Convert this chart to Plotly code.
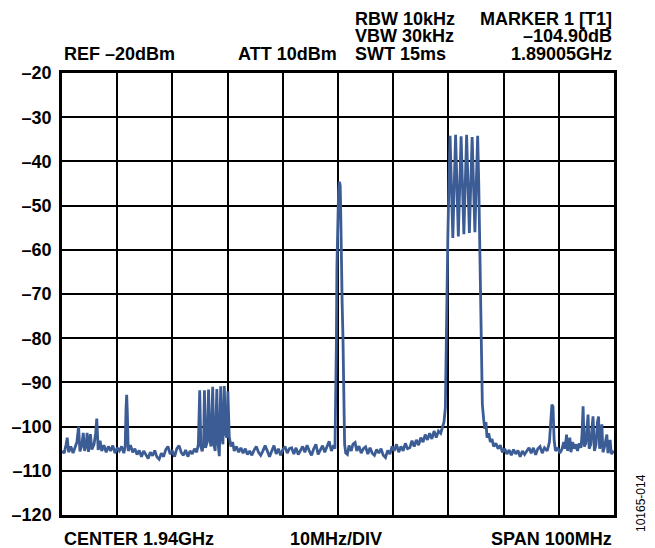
import plotly.graph_objects as go

# Frequency offset from 1.89 GHz start (MHz), span 100 MHz
offset_mhz = [
    0.0, 0.4, 0.75, 0.95, 1.2, 1.6, 2.0, 2.4, 2.7, 3.0, 3.25, 3.6, 3.85, 4.1, 4.4, 4.55, 4.8, 5.0, 5.15, 5.4,
    5.8, 6.1, 6.3, 6.55, 6.9, 7.2, 7.6, 8.0, 8.4, 8.8, 9.2, 9.6, 10.0, 10.4, 10.8, 11.2, 11.45, 11.6, 11.72, 11.85,
    12.0, 12.4, 12.8, 13.2, 13.6, 14.0, 14.4, 14.8, 15.2, 15.6, 16.0, 16.4, 16.8, 17.2, 17.6, 18.0, 18.4, 18.8, 19.2, 19.6,
    20.0, 20.4, 20.8, 21.2, 21.6, 22.0, 22.4, 22.8, 23.2, 23.6, 24.0, 24.4, 24.7,
    24.95, 25.15, 25.4, 25.65, 25.8, 26.0, 26.3, 26.55, 26.75, 27.0, 27.3, 27.5, 27.75, 28.05, 28.25, 28.5, 28.75, 28.95,
    29.15, 29.4, 29.6, 29.85, 30.05, 30.3, 30.6, 30.9, 31.2, 31.6, 32.0,
    32.4, 32.8, 33.2, 33.6, 34.0, 34.4, 34.8, 35.2, 35.6, 36.0, 36.4, 36.8, 37.2, 37.6, 38.0, 38.4, 38.8, 39.2, 39.6, 40.0,
    40.4, 40.8, 41.2, 41.6, 42.0, 42.4, 42.8, 43.2, 43.6, 44.0, 44.4, 44.8, 45.2, 45.6, 46.0, 46.4, 46.8, 47.2, 47.6, 48.0,
    48.4, 48.8, 49.2, 49.45,
    49.6, 49.7, 49.8, 49.95, 50.1, 50.25, 50.4, 50.5, 50.6, 50.75, 50.9, 51.0, 51.2, 51.4, 51.7, 52.0, 52.4, 52.7, 53.1, 53.4,
    53.8, 54.2, 54.6, 55.0, 55.4, 55.8, 56.2, 56.6, 57.0, 57.4, 57.8, 58.2, 58.6, 59.0, 59.4, 59.8, 60.2, 60.6, 61.0, 61.4,
    61.8, 62.2, 62.6, 63.0, 63.4, 63.8, 64.2, 64.6, 65.0, 65.4, 65.8, 66.2, 66.6, 67.0, 67.4, 67.8, 68.2, 68.6, 68.9, 69.2,
    69.45, 69.6, 69.75, 69.9, 70.1,
    70.3, 70.8, 71.3, 71.8, 72.3, 72.8, 73.3, 73.8, 74.3, 74.8, 75.3, 75.5, 75.7, 75.9, 76.05, 76.15, 76.4, 76.6, 76.8, 77.0,
    77.3, 77.6, 77.9, 78.2, 78.6, 79.0, 79.4, 79.8, 80.2, 80.6, 81.0, 81.4, 81.8, 82.2, 82.6, 83.0, 83.4, 83.8, 84.2, 84.6,
    85.0, 85.4, 85.8, 86.2, 86.6, 87.0, 87.4, 87.9, 88.3, 88.55, 88.75, 88.95, 89.15, 89.4, 89.8, 90.2, 90.6, 90.9, 91.15, 91.4,
    91.6, 91.8, 92.0, 92.2, 92.5, 92.8, 93.1, 93.4, 93.7, 94.0, 94.2, 94.4, 94.6, 94.9, 95.1, 95.3, 95.5, 95.8, 96.0, 96.2,
    96.45, 96.75, 97.0, 97.2, 97.4, 97.6, 97.8, 98.0, 98.3, 98.55, 98.7, 98.9, 99.1, 99.3, 99.5, 99.75, 100.0,
]

level_dbm = [
    -105.5, -106.0, -104.0, -102.5, -105.8, -104.5, -106.0, -104.8, -103.5, -100.0, -105.6, -104.2, -101.4, -105.5, -104.0, -101.4, -105.7, -103.5, -101.7, -105.2,
    -104.0, -101.5, -98.2, -105.3, -103.2, -105.5, -104.2, -105.8, -104.5, -105.5, -104.3, -106.0, -104.8, -105.5, -104.5, -106.0, -104.5, -96.0, -92.8, -97.5,
    -105.5, -104.2, -105.8, -105.0, -106.3, -105.4, -106.8, -105.5, -106.4, -107.2, -105.8, -106.6, -105.4, -106.9, -107.4, -106.0, -106.8, -105.2, -104.5, -106.2,
    -105.6, -106.8, -105.0, -104.3, -105.8, -106.5, -105.3, -106.8, -105.5, -106.2, -105.0, -105.8, -104.0,
    -91.8, -104.5, -105.6, -103.8, -91.8, -104.8, -103.5, -91.6, -102.8, -104.5, -91.0, -104.0, -105.5, -91.5, -103.5, -106.7, -90.9, -102.0,
    -104.0, -90.8, -101.5, -102.5, -92.0, -102.3, -104.5, -103.5, -105.5, -104.5, -105.8,
    -104.8, -106.0, -105.0, -106.3, -105.5, -106.5, -105.3, -104.5, -105.8, -106.5, -105.5, -104.3, -105.5, -106.8, -105.5, -104.3, -106.2, -105.0, -106.5, -105.2,
    -104.5, -106.0, -105.0, -104.8, -106.2, -104.8, -106.3, -105.2, -104.5, -105.8, -104.2, -105.5, -106.5, -105.0, -104.0, -106.3, -105.2, -104.3, -105.8, -104.6,
    -103.3, -105.5, -104.2, -105.0,
    -96.0, -82.0, -64.0, -52.0, -47.0, -44.6, -45.5, -52.0, -63.0, -72.0, -80.0, -92.0, -104.0, -106.0, -106.3, -104.3, -105.5, -104.0, -103.6, -105.5,
    -104.4, -106.0, -105.0, -104.6, -106.2, -104.8, -106.0, -106.5, -105.2, -106.0, -105.0, -106.5, -107.0, -105.4, -106.2, -104.5, -105.5, -104.0, -105.8, -104.5,
    -105.5, -103.8, -105.0, -104.8, -103.2, -104.5, -103.0, -104.2, -102.5, -103.5, -101.8, -103.0, -101.5, -102.8, -101.0, -102.5, -101.0, -101.5, -100.0, -99.0,
    -95.7, -80.0, -65.0, -57.0, -45.0,
    -34.2, -57.3, -34.0, -57.0, -34.3, -56.5, -34.0, -56.2, -34.5, -56.0, -34.2, -45.0, -62.0, -72.0, -85.0, -95.0, -98.5, -100.5, -99.0, -102.5,
    -101.5, -103.5, -102.8, -104.5, -103.8, -105.0, -104.2, -105.8, -105.0, -106.2, -105.3, -106.5, -105.2, -106.2, -105.4, -106.8, -105.5, -106.3, -105.5, -104.8,
    -106.0, -104.8, -106.4, -105.0, -104.5, -106.0, -104.8, -105.5, -103.5, -99.0, -95.0, -95.5, -103.0, -105.5, -104.8, -106.0, -105.0, -103.5, -105.0, -101.8,
    -105.5, -104.0, -102.5, -105.8, -103.5, -105.0, -104.0, -105.5, -103.8, -104.8, -102.0, -95.4, -104.5, -103.8, -101.0, -97.3, -105.0, -104.0, -100.5, -97.7,
    -105.5, -104.0, -99.0, -97.7, -105.0, -103.5, -99.5, -105.8, -104.5, -103.0, -101.8, -106.0, -104.5, -103.0, -106.2, -105.8, -105.5,
]

y_ticks = [-20, -30, -40, -50, -60, -70, -80, -90, -100, -110, -120]
y_tick_text = ["\u2013" + str(abs(v)) for v in y_ticks]

FONT = "Liberation Sans, Arial, sans-serif"
LINE_COLOR = "#3c5c96"

fig = go.Figure()
fig.add_trace(go.Scatter(
    x=offset_mhz, y=level_dbm, mode="lines",
    line=dict(color=LINE_COLOR, width=2.8),
    hoverinfo="skip", showlegend=False,
))

fig.update_layout(
    width=655, height=548,
    margin=dict(l=62, r=41, t=73, b=33),
    paper_bgcolor="white", plot_bgcolor="white",
    font=dict(family=FONT, size=18, color="black"),
    showlegend=False,
)
fig.update_xaxes(
    range=[0, 100], dtick=10, tick0=0, showticklabels=False,
    showgrid=True, gridcolor="black", gridwidth=1.8,
    showline=True, linecolor="black", linewidth=2.5, mirror=True,
    zeroline=False, ticks="",
)
fig.update_yaxes(
    range=[-120, -20], tickvals=y_ticks, ticktext=y_tick_text,
    showgrid=True, gridcolor="black", gridwidth=1.8,
    showline=True, linecolor="black", linewidth=2.5, mirror=True,
    zeroline=False, ticks="", ticklabelstandoff=4,
    tickfont=dict(family=FONT, size=18, color="black", weight="bold"),
)

bold = dict(family=FONT, size=18, color="black", weight="bold")
ann = [
    ("REF \u201320dBm", 0.0, 1.044, "left"),
    ("ATT 10dBm", 0.502, 1.044, "right"),
    ("RBW 10kHz", 0.527, 1.122, "left"),
    ("VBW 30kHz", 0.527, 1.083, "left"),
    ("SWT 15ms", 0.527, 1.044, "left"),
    ("MARKER 1 [T1]", 1.0, 1.122, "right"),
    ("\u2013104.90dB", 1.0, 1.083, "right"),
    ("1.89005GHz", 1.0, 1.044, "right"),
    ("CENTER 1.94GHz", 0.0, -0.054, "left"),
    ("10MHz/DIV", 0.497, -0.054, "center"),
    ("SPAN 100MHz", 1.0, -0.054, "right"),
]
for text, x, y, xa in ann:
    fig.add_annotation(text=text, x=x, y=y, xref="paper", yref="paper",
                       xanchor=xa, yanchor="middle", showarrow=False, font=bold)

fig.add_annotation(text="10165-014", x=(641 - 62) / 552, y=(515 - 503) / 442,
                   xref="paper", yref="paper", xanchor="center", yanchor="middle",
                   showarrow=False, textangle=-90,
                   font=dict(family=FONT, size=12, color="black"))

fig.write_html("out.html", config={"displayModeBar": False},
               post_script="document.body.style.margin='0px';")
